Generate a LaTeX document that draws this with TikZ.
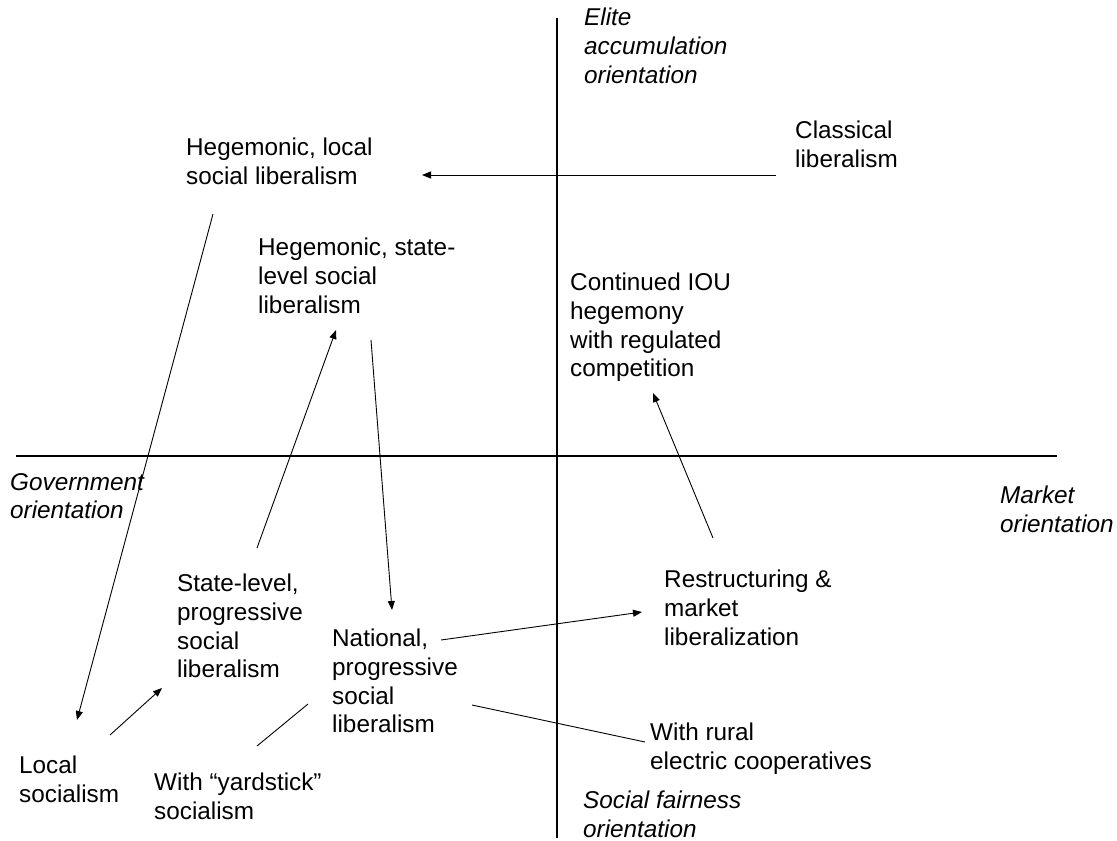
\documentclass[tikz,border=0pt]{standalone}
\usepackage{fontspec}
\setmainfont{Liberation Sans}
\usetikzlibrary{arrows.meta}
\tikzset{
  lbl/.style={anchor=north west, inner sep=0pt, align=left, font=\fontsize{24.3}{28.6}\selectfont},
  axlbl/.style={lbl, font=\fontsize{24.3}{28.6}\selectfont\itshape},
  axis/.style={line width=1.1pt},
  conn/.style={line width=0.9pt},
  arr/.style={conn, -{Triangle[length=9pt,width=7pt]}}
}
\begin{document}
\begin{tikzpicture}[x=1pt,y=-1pt]
\useasboundingbox (0,0) rectangle (1117,841);
% axes
\coordinate (vt) at (557,18);
\coordinate (vb) at (557,838);
\coordinate (hlft) at (16,456);
\coordinate (hrgt) at (1057,456);
\draw[axis] (vt) -- (vb);
\draw[axis] (hlft) -- (hrgt);
% labels
\node[axlbl] (elite) at (584,8) {Elite\\accumulation\\orientation};
\node[lbl] (cl) at (795,121) {Classical\\liberalism};
\node[lbl] (hl) at (186,138) {Hegemonic, local\\social liberalism};
\node[lbl] (hs) at (258,238) {Hegemonic, state-\\level social\\liberalism};
\node[lbl] (iou) at (570,273) {Continued IOU\\hegemony\\with regulated\\competition};
\node[axlbl] (gov) at (10,473) {Government\\orientation};
\node[axlbl] (mkt) at (1000,486) {Market\\orientation};
\node[lbl] (sl) at (177,574) {State-level,\\progressive\\social\\liberalism};
\node[lbl] (nat) at (332,629) {National,\\progressive\\social\\liberalism};
\node[lbl] (rest) at (664,570) {Restructuring \&\\market\\liberalization};
\node[lbl] (rural) at (650,723) {With rural\\electric cooperatives};
\node[lbl] (local) at (19,756) {Local\\socialism};
\node[lbl] (yard) at (154,773) {With “yardstick”\\socialism};
\node[axlbl] (social) at (583,791) {Social fairness\\orientation};
% connector end points
\coordinate (a1s) at (776,175); \coordinate (a1e) at (422,175);
\coordinate (a2s) at (213,214); \coordinate (a2e) at (77,720);
\coordinate (a3s) at (257,548); \coordinate (a3e) at (336,330);
\coordinate (a4s) at (371,340); \coordinate (a4e) at (392,610);
\coordinate (a5s) at (713,538); \coordinate (a5e) at (653,393);
\coordinate (a6s) at (441,640); \coordinate (a6e) at (642,612);
\coordinate (a7s) at (110,735); \coordinate (a7e) at (162,688);
\coordinate (l8s) at (257,746); \coordinate (l8e) at (308,704);
\coordinate (l9s) at (472,705); \coordinate (l9e) at (645,742);
% connectors
\draw[arr] (a1s) -- (a1e);
\draw[arr] (a2s) -- (a2e);
\draw[arr] (a3s) -- (a3e);
\draw[arr] (a4s) -- (a4e);
\draw[arr] (a5s) -- (a5e);
\draw[arr] (a6s) -- (a6e);
\draw[arr] (a7s) -- (a7e);
\draw[conn] (l8s) -- (l8e);
\draw[conn] (l9s) -- (l9e);
\end{tikzpicture}
\end{document}
